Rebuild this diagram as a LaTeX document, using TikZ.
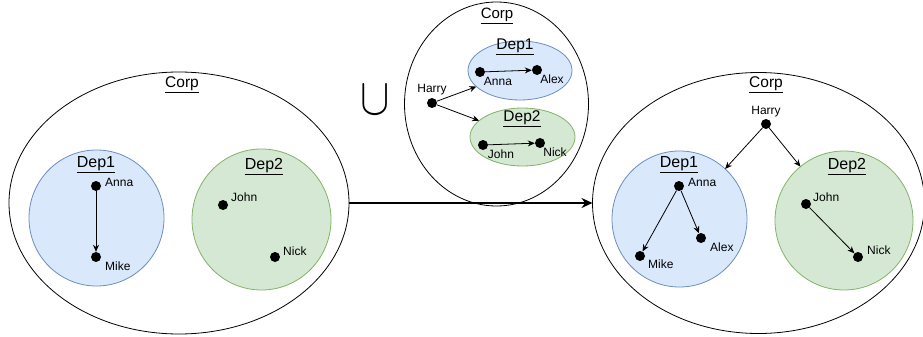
\documentclass[tikz,border=0pt]{standalone}
\usepackage{fontspec}
\setmainfont{Liberation Sans}
\usetikzlibrary{shapes.geometric,arrows.meta}
\definecolor{bluefill}{HTML}{DAE8FC}
\definecolor{bluestroke}{HTML}{6C8EBF}
\definecolor{greenfill}{HTML}{D5E8D4}
\definecolor{greenstroke}{HTML}{82B366}
\begin{document}
\begin{tikzpicture}[x=1pt,y=-1pt,
 dot/.style={circle,fill=black,inner sep=0,minimum size=10pt},
 nm/.style={font=\fontsize{12}{14}\selectfont,inner sep=0,anchor=west},
 nmc/.style={font=\fontsize{12}{14}\selectfont,inner sep=0},
 corp/.style={ellipse,draw=black,line width=0.8pt,inner sep=0,outer sep=0},
 depblue/.style={ellipse,draw=bluestroke,fill=bluefill,line width=0.8pt,inner sep=0,outer sep=0},
 depgreen/.style={ellipse,draw=greenstroke,fill=greenfill,line width=0.8pt,inner sep=0,outer sep=0},
 corpttl/.style={font=\fontsize{15.5}{17}\selectfont,inner sep=0},
 depttl/.style={font=\fontsize{16}{18}\selectfont,inner sep=0},
 link/.style={-{Stealth[length=7pt,width=6pt]},line width=0.8pt},
 bigarrow/.style={-{Stealth[length=11pt,width=10pt]},line width=2.2pt}
]
\useasboundingbox (0,0) rectangle (923,337);

% ---------- left Corp ----------
\node[corp,minimum width=340pt,minimum height=262pt] (corpL) at (179,203) {};
\node[corpttl] (corpLt) at (182,85) {\underline{Corp}};
\node[depblue,minimum width=135pt,minimum height=136pt] (dep1L) at (96.5,218) {};
\node[depttl] (dep1Lt) at (96,165) {\underline{Dep1}};
\node[depgreen,minimum width=139pt,minimum height=141pt] (dep2L) at (261.5,219.5) {};
\node[depttl] (dep2Lt) at (264,167) {\underline{Dep2}};
\node[dot] (annaL) at (96,186) {};
\node[nm] (annaLt) at (105,182) {Anna};
\node[dot] (mikeL) at (96,257) {};
\node[nm] (mikeLt) at (105,266) {Mike};
\node[dot] (johnL) at (223,205) {};
\node[nm] (johnLt) at (231,197) {John};
\node[dot] (nickL) at (275,257) {};
\node[nm] (nickLt) at (283,251) {Nick};
\draw[link] (annaL) -- (mikeL);

% ---------- union ----------
\node[inner sep=0] (uni) at (375.5,100) {\scalebox{4.4}[5.2]{$\cup$}};

% ---------- top Corp ----------
\node[corp,minimum width=184pt,minimum height=204pt] (corpT) at (496.5,104) {};
\node[corpttl,font=\fontsize{15}{17}\selectfont] (corpTt) at (497,16) {\underline{Corp}};
\node[depblue,minimum width=104pt,minimum height=59pt] (dep1T) at (520,70.5) {};
\node[depttl,font=\fontsize{15.5}{17}\selectfont] (dep1Tt) at (515,47) {\underline{Dep1}};
\node[depgreen,minimum width=105pt,minimum height=58pt] (dep2T) at (522.5,137) {};
\node[depttl,font=\fontsize{15.5}{17}\selectfont] (dep2Tt) at (522,119) {\underline{Dep2}};
\node[dot] (harryT) at (432,103) {};
\node[nmc] (harryTt) at (432,90) {Harry};
\node[dot] (annaT) at (480,72) {};
\node[nmc] (annaTt) at (498,81) {Anna};
\node[dot] (alexT) at (537,70) {};
\node[nmc] (alexTt) at (552,79) {Alex};
\node[dot] (johnT) at (483,145) {};
\node[nmc] (johnTt) at (501,154) {John};
\node[dot] (nickT) at (540,143) {};
\node[nmc] (nickTt) at (555,152) {Nick};
\draw[link] (annaT) -- (alexT);
\draw[link] (johnT) -- (nickT);
\draw[link] (harryT) -- (dep1T);
\draw[link] (harryT) -- (dep2T);

% ---------- right Corp ----------
\node[corp,minimum width=332pt,minimum height=261pt] (corpR) at (758.5,203) {};
\node[corpttl] (corpRt) at (766,85) {\underline{Corp}};
\node[depblue,minimum width=135pt,minimum height=136pt] (dep1R) at (679.5,219) {};
\node[depttl] (dep1Rt) at (679,165) {\underline{Dep1}};
\node[depgreen,minimum width=138pt,minimum height=139pt] (dep2R) at (844,220.5) {};
\node[depttl] (dep2Rt) at (847,167) {\underline{Dep2}};
\node[dot] (harryR) at (766,124) {};
\node[nmc] (harryRt) at (766,112) {Harry};
\node[dot] (annaR) at (679,186) {};
\node[nm] (annaRt) at (688,182) {Anna};
\node[dot] (mikeR) at (640,256) {};
\node[nm] (mikeRt) at (648,264) {Mike};
\node[dot] (alexR) at (701,238) {};
\node[nm] (alexRt) at (710,247) {Alex};
\node[dot] (johnR) at (806,204) {};
\node[nm] (johnRt) at (813,197) {John};
\node[dot] (nickR) at (858,257) {};
\node[nm] (nickRt) at (867,250) {Nick};
\draw[link] (harryR) -- (dep1R);
\draw[link] (harryR) -- (dep2R);
\draw[link] (annaR) -- (mikeR);
\draw[link] (annaR) -- (alexR);
\draw[link] (johnR) -- (nickR);

% ---------- main arrow ----------
\draw[bigarrow] (corpL.east) -- (corpR.west);
\end{tikzpicture}
\end{document}
